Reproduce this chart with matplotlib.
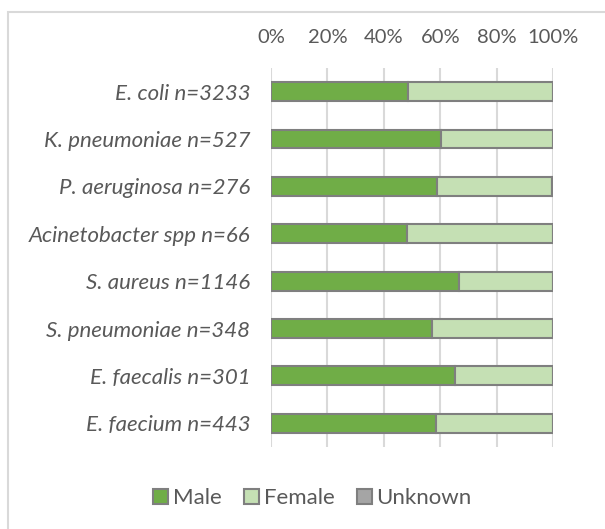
import matplotlib
matplotlib.use('Agg')
import matplotlib.pyplot as plt
from matplotlib.patches import Rectangle, Patch

species = ['E. coli n=3233', 'K. pneumoniae n=527', 'P. aeruginosa n=276',
           'Acinetobacter spp n=66', 'S. aureus n=1146', 'S. pneumoniae n=348',
           'E. faecalis n=301', 'E. faecium n=443']
male = [48.7, 60.3, 58.7, 48.3, 66.8, 57.2, 65.1, 58.5]
female = [51.3, 39.7, 40.9, 51.7, 33.2, 42.8, 34.9, 41.5]
unknown = [0, 0, 0.4, 0, 0, 0, 0, 0]
xticks = [0, 20, 40, 60, 80, 100]

C_MALE = '#70AD47'
C_FEMALE = '#C5E0B4'
C_UNK = '#A5A5A5'
EDGE = '#7F7F7F'
TXT = '#595959'

plt.rcParams['font.family'] = ['Lato', 'DejaVu Sans']

fig = plt.figure(figsize=(6.05, 5.29), dpi=100)
ax = fig.add_axes([0.448, 0.155, 0.466, 0.7166])

# outer chart frame (cut off on right/bottom like the source)
fig.patches.append(Rectangle((8 / 605, -0.1), 1.2, 1 - 12 / 529 + 0.1,
                             transform=fig.transFigure, fill=False,
                             edgecolor='#D9D9D9', linewidth=1.5))

y = list(range(len(species)))
left2 = [m + f for m, f in zip(male, female)]
ax.barh(y, male, height=0.4, color=C_MALE, edgecolor=EDGE, linewidth=1.5, zorder=3)
ax.barh(y, female, left=male, height=0.4, color=C_FEMALE, edgecolor=EDGE, linewidth=1.5, zorder=3)
ax.barh(y, unknown, left=left2, height=0.4, color=C_UNK, edgecolor=EDGE, linewidth=1.5, zorder=3)

ax.set_ylim(len(species) - 0.5, -0.5)
ax.set_xlim(0, 100)
ax.set_yticks(y)
ax.set_yticklabels(species, style='italic', fontsize=16, color=TXT)
ax.set_xticks(xticks)
ax.set_xticklabels([f'{t}%' for t in xticks], fontsize=14.5, color=TXT)
ax.xaxis.tick_top()
ax.tick_params(axis='y', length=0, pad=15)
ax.tick_params(axis='x', length=0, pad=16)
ax.grid(axis='x', color='#D9D9D9', linewidth=1.5, zorder=0)
for s in ax.spines.values():
    s.set_visible(False)

handles = [Patch(facecolor=C_MALE, edgecolor=EDGE, linewidth=1.5, label='Male'),
           Patch(facecolor=C_FEMALE, edgecolor=EDGE, linewidth=1.5, label='Female'),
           Patch(facecolor=C_UNK, edgecolor=EDGE, linewidth=1.5, label='Unknown')]
fig.legend(handles=handles, loc='center', bbox_to_anchor=(0.516, 0.058), ncol=3,
           frameon=False, fontsize=16, labelcolor=TXT, handlelength=0.68,
           handleheight=0.68, handletextpad=0.22, columnspacing=1.0)

fig.savefig('out.png', dpi=100)
